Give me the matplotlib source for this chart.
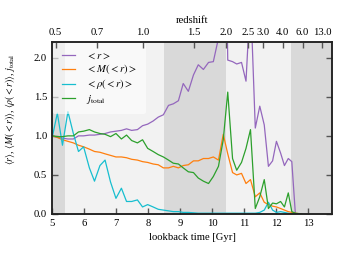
import matplotlib
matplotlib.use("Agg")
import matplotlib.pyplot as plt
import numpy as np

plt.rcParams['font.family'] = 'Liberation Serif'
plt.rcParams['mathtext.fontset'] = 'stix'
plt.rcParams['font.size'] = 7.7

# lookback time of each snapshot [Gyr]
t_lb = [5.02, 5.17, 5.33, 5.50, 5.67, 5.83, 5.99, 6.17, 6.33, 6.50,
        6.66, 6.83, 7.00, 7.17, 7.33, 7.49, 7.67, 7.83, 7.99, 8.16,
        8.32, 8.48, 8.64, 8.79, 8.95, 9.10, 9.26, 9.42, 9.57, 9.73,
        9.89, 10.04, 10.20, 10.35, 10.49, 10.64, 10.77, 10.92, 11.06, 11.20,
        11.35, 11.49, 11.63, 11.76, 11.89, 12.01, 12.14, 12.26, 12.38, 12.49,
        12.60, 12.70, 12.80]

r_mean = [1.00, 0.98, 0.97, 0.96, 0.96, 1.00, 1.00, 1.01, 1.01, 1.02,
          1.03, 1.05, 1.06, 1.07, 1.09, 1.07, 1.08, 1.13, 1.15, 1.19,
          1.24, 1.27, 1.39, 1.41, 1.45, 1.67, 1.57, 1.78, 1.91, 1.85,
          1.94, 1.95, 2.25, 6.00, 1.97, 1.95, 1.92, 1.94, 1.70, 2.80,
          1.10, 1.38, 1.14, 0.61, 0.68, 0.93, 0.78, 0.62, 0.71, 0.67,
          0.01]

m_mean = [1.00, 0.98, 0.95, 0.93, 0.91, 0.88, 0.86, 0.83, 0.80, 0.79,
          0.77, 0.75, 0.73, 0.73, 0.72, 0.70, 0.69, 0.67, 0.66, 0.64,
          0.63, 0.59, 0.59, 0.61, 0.59, 0.62, 0.63, 0.68, 0.68, 0.71,
          0.71, 0.73, 0.69, 1.02, 0.77, 0.53, 0.50, 0.52, 0.39, 0.44,
          0.22, 0.27, 0.15, 0.12, 0.10, 0.09, 0.07, 0.05, 0.03, 0.02,
          0.01, 0.005, 0.0]

rho_mean = [1.00, 1.29, 0.88, 1.31, 1.03, 0.80, 0.86, 0.59, 0.42, 0.62,
            0.69, 0.41, 0.20, 0.33, 0.16, 0.16, 0.18, 0.09, 0.12, 0.09,
            0.06, 0.05, 0.04, 0.03, 0.03, 0.02, 0.02, 0.015, 0.01, 0.01,
            0.01, 0.01, 0.01, 0.01, 0.01, 0.01, 0.01, 0.01, 0.01, 0.01,
            0.01, 0.02, 0.05, 0.15, 0.05, 0.02, 0.03, 0.02, 0.01, 0.0,
            0.0]

j_total = [1.00, 0.99, 0.99, 1.00, 1.00, 1.05, 1.06, 1.08, 1.05, 1.03,
           1.02, 0.99, 1.03, 0.96, 1.01, 0.94, 0.91, 0.95, 0.84, 0.80,
           0.76, 0.73, 0.69, 0.65, 0.64, 0.59, 0.54, 0.53, 0.46, 0.42,
           0.39, 0.48, 0.61, 0.95, 1.56, 0.71, 0.56, 0.66, 0.84, 1.08,
           0.07, 0.22, 0.44, 0.07, 0.14, 0.13, 0.16, 0.09, 0.27, 0.03,
           0.01, 0.005, 0.0]

# alternating background bands (lookback time edges)
band_edges = [5.0, 5.4, 8.5, 10.45, 12.45, 13.75]
band_colors = ['#d9d9d9', '#f2f2f2', '#d9d9d9', '#f2f2f2', '#d9d9d9']

z_ticks = [0.5, 0.7, 1.0, 1.5, 2.0, 2.5, 3.0, 4.0, 6.0, 13.0]
z_labels = ['0.5', '0.7', '1.0', '1.5', '2.0', '2.5', '3.0', '4.0', '6.0', '13.0']

# flat LCDM (WMAP9-like)
H0 = 69.3
Om = 0.287
OL = 1 - Om
tH = 977.8 / H0
def cosmic_time(z):
    return 2 / (3 * tH**-1 * np.sqrt(OL)) * np.arcsinh(np.sqrt(OL / Om) * (1 + np.asarray(z))**-1.5)
age = cosmic_time(0.0)
def lookback(z):
    return age - cosmic_time(z)

fig = plt.figure(figsize=(3.46, 2.6), dpi=100)
ax = fig.add_axes([0.150, 0.177, 0.810, 0.661])

for i in range(len(band_colors)):
    ax.axvspan(band_edges[i], band_edges[i + 1], color=band_colors[i], lw=0, zorder=0)

lw = 0.9
ax.plot(t_lb[:len(r_mean)], r_mean, color='#9467bd', lw=lw, label=r'$<r>$')
ax.plot(t_lb[:len(m_mean)], m_mean, color='#ff7f0e', lw=lw, label=r'$<M(<r)>$')
ax.plot(t_lb[:len(rho_mean)], rho_mean, color='#17becf', lw=lw, label=r'$<\rho(<r)>$')
ax.plot(t_lb[:len(j_total)], j_total, color='#2ca02c', lw=lw, label=r'$j_{\rm total}$')

ax.set_xlim(5, 13.75)
ax.set_ylim(0, 2.2)
ax.set_xticks(range(5, 14))
ax.set_yticks([0.0, 0.5, 1.0, 1.5, 2.0])
ax.set_xlabel('lookback time [Gyr]')
ax.set_ylabel(r'$\langle r\rangle$, $\langle M(<r)\rangle$, $\langle\rho(<r)\rangle$, $j_{\rm total}$',
              fontsize=7.0)
ax.yaxis.set_label_coords(-0.125, 0.61)
ax.tick_params(direction='in', length=4, width=1, color='#555555', right=True, top=False)

leg = ax.legend(loc='upper left', frameon=True, fontsize=7.7, handlelength=1.3,
                handletextpad=1.0, borderaxespad=0.1, borderpad=0.8, labelspacing=0.1)
leg.get_frame().set_facecolor('white')
leg.get_frame().set_alpha(0.6)
leg.get_frame().set_edgecolor('none')

ax2 = ax.twiny()
ax2.set_xlim(ax.get_xlim())
ax2.set_xticks(lookback(z_ticks))
ax2.set_xticklabels(z_labels)
ax2.set_xlabel('redshift')
ax2.tick_params(direction='in', length=4, width=1, color='#555555')

for a in (ax, ax2):
    for s in a.spines.values():
        s.set_linewidth(1.1)
        s.set_color('#222222')

fig.savefig('out.png', dpi=100)
